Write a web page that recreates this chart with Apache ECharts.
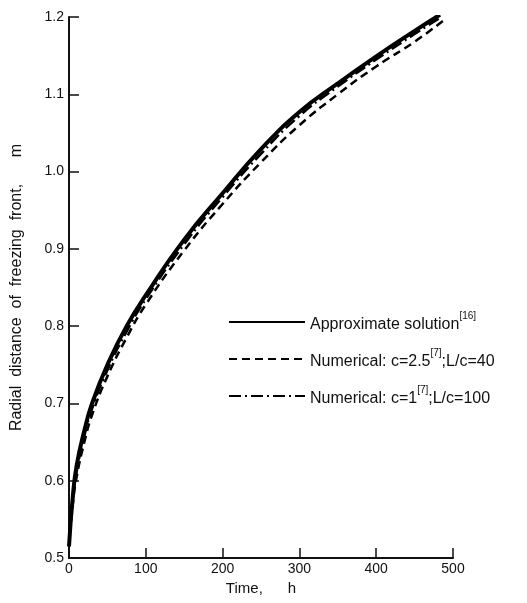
<!DOCTYPE html>
<html>
<head>
<meta charset="utf-8">
<script src="https://cdn.jsdelivr.net/npm/echarts@6/dist/echarts.min.js"></script>
<style>
  html, body { margin: 0; padding: 0; background: #fff; }
  #chart { width: 527px; height: 603px; }
</style>
</head>
<body>
<div id="chart"></div>
<script>
// time (h) and radial distance (m)
var timeApprox = [0, 5, 10, 20, 30, 50, 75, 100, 150, 200, 250, 300, 350, 400, 450, 483]
var rApprox = [0.515, 0.58, 0.62, 0.665, 0.70, 0.75, 0.80, 0.84, 0.912, 0.972, 1.029, 1.077, 1.114, 1.149, 1.182, 1.203]

var timeNum1 = [0, 5, 10, 20, 30, 50, 75, 100, 150, 200, 250, 300, 350, 400, 450, 487]
var rNum1 = [0.515, 0.57, 0.605, 0.65, 0.685, 0.735, 0.785, 0.828, 0.898, 0.958, 1.012, 1.060, 1.100, 1.136, 1.168, 1.195]

var timeNum2 = [0, 5, 10, 20, 30, 50, 75, 100, 150, 200, 250, 300, 350, 400, 450, 485]
var rNum2 = [0.515, 0.575, 0.612, 0.658, 0.693, 0.743, 0.793, 0.835, 0.906, 0.967, 1.023, 1.072, 1.110, 1.145, 1.178, 1.200]

var xTicks = [0, 100, 200, 300, 400, 500]
var yTicks = [0.5, 0.6, 0.7, 0.8, 0.9, 1.0, 1.1, 1.2]

var legendNames = ['approx', 'num1', 'num2']
var legendText = {
    approx: '{t|Approximate solution}{s|[16]}',
    num1: '{t|Numerical: c=2.5}{s|[7]}{t|;L/c=40}',
    num2: '{t|Numerical: c=1}{s|[7]}{t|;L/c=100}'
}

function zip(xs, ys) {
    return xs.map(function (x, i) { return [x, ys[i]] })
}

var font = 'Liberation Sans'
var myChart = echarts.init(document.getElementById('chart'))

myChart.setOption({
    animation: false,
    backgroundColor: '#fff',
    color: ['#000', '#000', '#000'],
    textStyle: { fontFamily: font, color: '#111' },
    grid: { left: 69, right: 74, top: 17, bottom: 45, outerBoundsMode: 'none', containLabel: false },
    legend: {
        data: legendNames,
        orient: 'vertical',
        left: 228,
        top: 311,
        padding: 0,
        itemWidth: 76,
        itemHeight: 14,
        itemGap: 15,
        itemStyle: { opacity: 0 },
        formatter: function (name) { return legendText[name] },
        textStyle: {
            rich: {
                t: { fontFamily: font, fontSize: 16, color: '#111', lineHeight: 22, verticalAlign: 'bottom' },
                s: { fontFamily: font, fontSize: 10, color: '#111', lineHeight: 22, verticalAlign: 'top' }
            }
        }
    },
    xAxis: {
        type: 'value',
        min: xTicks[0],
        max: xTicks[xTicks.length - 1],
        interval: 100,
        name: 'Time,      h',
        nameLocation: 'middle',
        nameGap: 21,
        nameTextStyle: { fontFamily: font, fontSize: 15, color: '#111' },
        axisLine: { lineStyle: { color: '#111', width: 2 } },
        axisTick: { inside: true, length: 10, lineStyle: { color: '#111', width: 1.5 } },
        axisLabel: { fontFamily: font, fontSize: 14, color: '#111', margin: 4 },
        splitLine: { show: false }
    },
    yAxis: {
        type: 'value',
        min: yTicks[0],
        max: yTicks[yTicks.length - 1],
        interval: 0.1,
        name: 'Radial  distance  of  freezing  front,      m',
        nameLocation: 'middle',
        nameGap: 44,
        nameTextStyle: { fontFamily: font, fontSize: 16, color: '#111' },
        axisLine: { lineStyle: { color: '#111', width: 2 } },
        axisTick: { inside: true, length: 10, lineStyle: { color: '#111', width: 1.5 } },
        axisLabel: {
            fontFamily: font, fontSize: 14, color: '#111', margin: 5,
            formatter: function (v) { return v.toFixed(1) }
        },
        splitLine: { show: false }
    },
    series: [{
        name: 'approx',
        type: 'line',
        smooth: true,
        symbol: 'none',
        data: zip(timeApprox, rApprox),
        lineStyle: { color: '#000', width: 4 }
    }, {
        name: 'num1',
        type: 'line',
        smooth: true,
        symbol: 'none',
        data: zip(timeNum1, rNum1),
        lineStyle: { color: '#000', width: 2.5, type: [8, 5] }
    }, {
        name: 'num2',
        type: 'line',
        smooth: true,
        symbol: 'none',
        data: zip(timeNum2, rNum2),
        lineStyle: { color: '#000', width: 2.5, type: [12, 4, 2, 4] }
    }]
})
</script>
</body>
</html>
